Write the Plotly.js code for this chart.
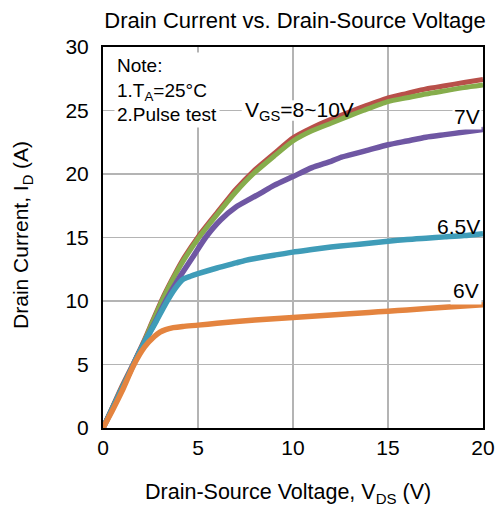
<!DOCTYPE html>
<html>
<head>
<meta charset="utf-8">
<script src="https://cdn.plot.ly/plotly-3.0.1.min.js"></script>
<style>html,body{margin:0;padding:0;background:#fff;}#chart{width:495px;height:512px;}</style>
</head>
<body>
<div id="chart"></div>
<script>
// VGS = 8 V (green)
const green_x = [0,0.5,1,1.6,2.2,2.6,3.1,3.6,4.2,5.05,6,7,7.9,9,10,11,12,13,13.7,15,16,17,18,19,20];
const green_y = [0,1.6,3.2,5,6.9,8.3,10,11.5,13.1,15,16.8,18.6,20,21.4,22.6,23.4,24.0,24.6,25.0,25.7,26.0,26.3,26.55,26.8,27.0];
// VGS = 10 V (red)
const red_x = [0,0.5,1,1.6,2.2,2.6,3.1,3.6,4.2,5.05,6,7,7.9,9,10,11,12,13,13.7,15,16,17,18,19,20];
const red_y = [0,1.65,3.3,5.1,7.0,8.4,10.1,11.6,13.25,15.15,16.95,18.8,20.2,21.6,22.85,23.65,24.3,24.9,25.3,26.0,26.35,26.7,26.95,27.2,27.45];
// VGS = 7 V (purple)
const purple_x = [0,1,1.6,2.2,2.8,3.3,4,4.7,5.4,6.2,7,7.7,8.3,9,10,11,12,12.5,13,14,15,16,17,18,19,20];
const purple_y = [0,3.1,5,6.8,8.5,10,11.8,13.4,15,16.4,17.4,18.0,18.5,19.1,19.8,20.5,21.0,21.3,21.5,21.9,22.3,22.6,22.9,23.1,23.3,23.5];
// VGS = 6.5 V (cyan)
const cyan_x = [0,1,1.6,2.2,2.8,3.3,3.8,4.2,4.6,5,6,7,7.5,8,9,10,11,12,13,14,15,16,17,18,19,20];
const cyan_y = [0,3.1,5,6.8,8.4,9.8,11.0,11.7,11.95,12.15,12.6,13.0,13.2,13.35,13.6,13.85,14.05,14.25,14.4,14.55,14.7,14.85,14.95,15.05,15.15,15.3];
// VGS = 6 V (orange)
const orange_x = [0,0.5,1,1.6,2.2,2.7,3.0,3.3,3.7,4.2,5,6,8,10,12,14,15,16,18,20];
const orange_y = [0,1.4,2.9,4.9,6.4,7.2,7.55,7.75,7.9,8.0,8.1,8.25,8.5,8.7,8.9,9.1,9.2,9.3,9.5,9.7];

const xTicks = [0,5,10,15,20];
const yTicks = [0,5,10,15,20,25,30];

const FONT = 'Liberation Sans, Arial, sans-serif';

function tr(x, y, color, name, w) {
  return {x: x, y: y, type: 'scatter', mode: 'lines', name: name,
    line: {color: color, width: w, shape: 'spline', smoothing: 0.6}, hoverinfo: 'skip'};
}

const data = [
  tr(red_x, red_y, '#b8504a', 'VGS=10V', 5),
  tr(green_x, green_y, '#86ad4c', 'VGS=8V', 5),
  tr(purple_x, purple_y, '#6f57a3', 'VGS=7V', 5.5),
  tr(cyan_x, cyan_y, '#3f9cb8', 'VGS=6.5V', 5.5),
  tr(orange_x, orange_y, '#e4843f', 'VGS=6V', 5.5)
];

const layout = {
  width: 495, height: 512,
  margin: {l: 103, r: 12, t: 47, b: 84},
  paper_bgcolor: '#fff', plot_bgcolor: '#fff',
  showlegend: false,
  font: {family: FONT, color: '#000', size: 21},
  title: {text: 'Drain Current vs. Drain-Source Voltage', font: {family: FONT, size: 22, color: '#000'},
    x: 0.596, xanchor: 'center', y: 0.961, yanchor: 'middle'},
  xaxis: {range: [0, 20], tickvals: xTicks, ticktext: xTicks.map(String), showgrid: true,
    gridcolor: '#b4b4b4', gridwidth: 1.5, zeroline: false, showline: true, linecolor: '#000',
    linewidth: 2, mirror: true, ticks: '', ticklabelstandoff: 0,
    tickfont: {family: FONT, size: 21, color: '#000'}},
  yaxis: {range: [0, 30], tickvals: yTicks, ticktext: yTicks.map(String), showgrid: true,
    gridcolor: '#b4b4b4', gridwidth: 1.5, zeroline: false, showline: true, linecolor: '#000',
    linewidth: 2, mirror: true, ticks: '', ticklabelstandoff: 8,
    tickfont: {family: FONT, size: 21, color: '#000'}},
  shapes: [
    {type: 'rect', xref: 'x', yref: 'y', x0: 7.3, x1: 13.5, y0: 24.2, y1: 25.8,
     fillcolor: '#fff', line: {width: 0}, layer: 'between'}
  ],
  annotations: [
    {xref: 'paper', yref: 'paper', x: 0.487, y: -0.171, xanchor: 'center', yanchor: 'middle',
     text: 'Drain-Source Voltage, V<sub>DS</sub> (V)', showarrow: false,
     font: {family: FONT, size: 21.5, color: '#000'}},
    {xref: 'paper', yref: 'paper', x: -0.213, y: 0.507, xanchor: 'center', yanchor: 'middle',
     textangle: -90, text: 'Drain Current, I<sub>D</sub> (A)', showarrow: false,
     font: {family: FONT, size: 21, color: '#000'}},
    {xref: 'paper', yref: 'paper', x: 0.03, y: 0.987, xanchor: 'left', yanchor: 'top', align: 'left',
     text: 'Note:<br>1.T<sub>A</sub>=25°C<br>2.Pulse test', showarrow: false,
     bgcolor: '#fff', borderpad: 2, font: {family: FONT, size: 19, color: '#000'}},
    {xref: 'x', yref: 'y', x: 7.37, y: 25, xanchor: 'left', yanchor: 'middle',
     text: 'V<sub>GS</sub>=8~10V', showarrow: false, borderpad: 1,
     font: {family: FONT, size: 21, color: '#000'}},
    {xref: 'x', yref: 'y', x: 19.95, y: 24.5, xanchor: 'right', yanchor: 'middle',
     text: '7V', showarrow: false, bgcolor: '#fff', borderpad: 1,
     font: {family: FONT, size: 21, color: '#000'}},
    {xref: 'x', yref: 'y', x: 19.95, y: 15.9, xanchor: 'right', yanchor: 'middle',
     text: '6.5V', showarrow: false, borderpad: 1,
     font: {family: FONT, size: 21, color: '#000'}},
    {xref: 'x', yref: 'y', x: 19.95, y: 10.85, xanchor: 'right', yanchor: 'middle',
     text: '6V', showarrow: false, bgcolor: '#fff', borderpad: 2,
     font: {family: FONT, size: 21, color: '#000'}}
  ]
};

Plotly.newPlot('chart', data, layout, {staticPlot: true, displayModeBar: false});
</script>
</body>
</html>
